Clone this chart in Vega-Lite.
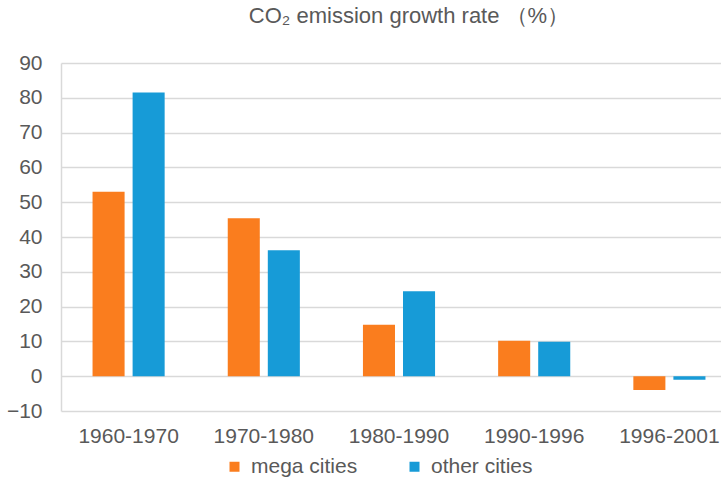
{
  "$schema": "https://vega.github.io/schema/vega-lite/v6.json",
  "autosize": "none",
  "padding": {"left": 61, "top": 63, "right": 0, "bottom": 69},
  "width": 660,
  "height": 348,
  "background": "white",
  "title": {
    "text": "CO₂ emission growth rate  （%）",
    "fontSize": 22,
    "font": "Liberation Sans",
    "fontWeight": "normal",
    "color": "#595959",
    "anchor": "middle",
    "dx": 18,
    "offset": 24
  },
  "data": {
    "values": [
      {"period": "1960-1970", "type": "mega cities", "value": 53.0},
      {"period": "1960-1970", "type": "other cities", "value": 81.5},
      {"period": "1970-1980", "type": "mega cities", "value": 45.4},
      {"period": "1970-1980", "type": "other cities", "value": 36.2},
      {"period": "1980-1990", "type": "mega cities", "value": 14.8},
      {"period": "1980-1990", "type": "other cities", "value": 24.4},
      {"period": "1990-1996", "type": "mega cities", "value": 10.2},
      {"period": "1990-1996", "type": "other cities", "value": 9.9},
      {"period": "1996-2001", "type": "mega cities", "value": -4.0},
      {"period": "1996-2001", "type": "other cities", "value": -1.0}
    ]
  },
  "mark": {"type": "bar"},
  "encoding": {
    "x": {
      "field": "period",
      "type": "nominal",
      "sort": null,
      "scale": {"range": [0, 676], "paddingInner": 0, "paddingOuter": 0},
      "axis": {
        "title": null,
        "labelAngle": 0,
        "domain": false,
        "ticks": false,
        "grid": false,
        "labelFont": "Liberation Sans",
        "labelFontSize": 21,
        "labelColor": "#595959",
        "labelPadding": 14
      }
    },
    "xOffset": {
      "field": "type",
      "type": "nominal",
      "scale": {"paddingInner": 0.2, "paddingOuter": 0.7875}
    },
    "y": {
      "field": "value",
      "type": "quantitative",
      "scale": {"domain": [-10, 90], "nice": false, "zero": false},
      "axis": {
        "title": null,
        "values": [-10, 0, 10, 20, 30, 40, 50, 60, 70, 80, 90],
        "domain": true,
        "domainColor": "#d9d9d9",
        "domainWidth": 1.5,
        "ticks": false,
        "grid": true,
        "gridColor": "#d9d9d9",
        "gridWidth": 1.5,
        "labelFont": "Liberation Sans",
        "labelFontSize": 21,
        "labelColor": "#595959",
        "labelPadding": 19
      }
    },
    "color": {
      "field": "type",
      "type": "nominal",
      "scale": {"domain": ["mega cities", "other cities"], "range": ["#FA7D1E", "#179BD7"]},
      "legend": {
        "title": null,
        "orient": "none",
        "direction": "horizontal",
        "legendX": 163,
        "legendY": 393,
        "symbolType": "square",
        "symbolSize": 100,
        "symbolStrokeWidth": 0,
        "labelFont": "Liberation Sans",
        "labelFontSize": 21,
        "labelColor": "#595959",
        "labelOffset": 6,
        "columnPadding": 46
      }
    }
  },
  "config": {"view": {"stroke": null}}
}
